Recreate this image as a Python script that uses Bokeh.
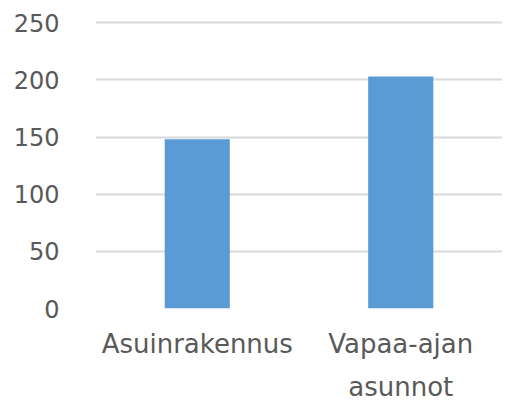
from bokeh.plotting import figure
from bokeh.models import Range1d, FactorRange, SingleIntervalTicker, CategoricalAxis, CustomJSTickFormatter
from bokeh.embed import file_html
from bokeh.resources import INLINE

categories = ["Asuinrakennus", "Vapaa-ajan asunnot"]
label_line1 = ["Asuinrakennus", "Vapaa-ajan"]
label_line2 = ["", "asunnot"]
values = [148, 203]
y_ticks_interval = 50

FONT = "DejaVu Sans"
GREY = "#595959"

p = figure(x_range=FactorRange(*categories), y_range=Range1d(0, 252),
           width=502, height=404, output_backend="svg", toolbar_location=None,
           min_border_left=95, min_border_right=0, min_border_top=20, min_border_bottom=96)
p.outline_line_color = None
p.vbar(x=categories, top=values, width=0.32, color="#5b9bd5", line_color=None)
p.x_range.range_padding = 0.0

p.yaxis.ticker = SingleIntervalTicker(interval=y_ticks_interval)
p.yaxis.axis_line_color = None
p.yaxis.major_tick_line_color = None
p.yaxis.major_tick_out = 0
p.yaxis.minor_tick_line_color = None
p.yaxis.minor_tick_out = 0
p.yaxis.major_label_standoff = 36
p.yaxis.major_label_text_font = FONT
p.yaxis.major_label_text_font_size = "24px"
p.yaxis.major_label_text_color = GREY

def style_x(ax, standoff, labels):
    ax.axis_line_color = None
    ax.major_tick_line_color = None
    ax.major_tick_out = 0
    ax.major_label_standoff = standoff
    ax.major_label_text_font = FONT
    ax.major_label_text_font_size = "26px"
    ax.major_label_text_color = GREY
    ax.major_label_text_line_height = 1.0
    ax.formatter = CustomJSTickFormatter(args=dict(m=dict(zip(categories, labels))),
                                         code="return m[tick] || '';")

style_x(p.xaxis[0], 20, label_line1)

ax2 = CategoricalAxis()
style_x(ax2, 10, label_line2)
p.add_layout(ax2, "below")

p.xgrid.grid_line_color = None
p.ygrid.grid_line_color = "#d9d9d9"
p.ygrid.grid_line_width = 2

open("out.html", "w").write(file_html(p, INLINE))
